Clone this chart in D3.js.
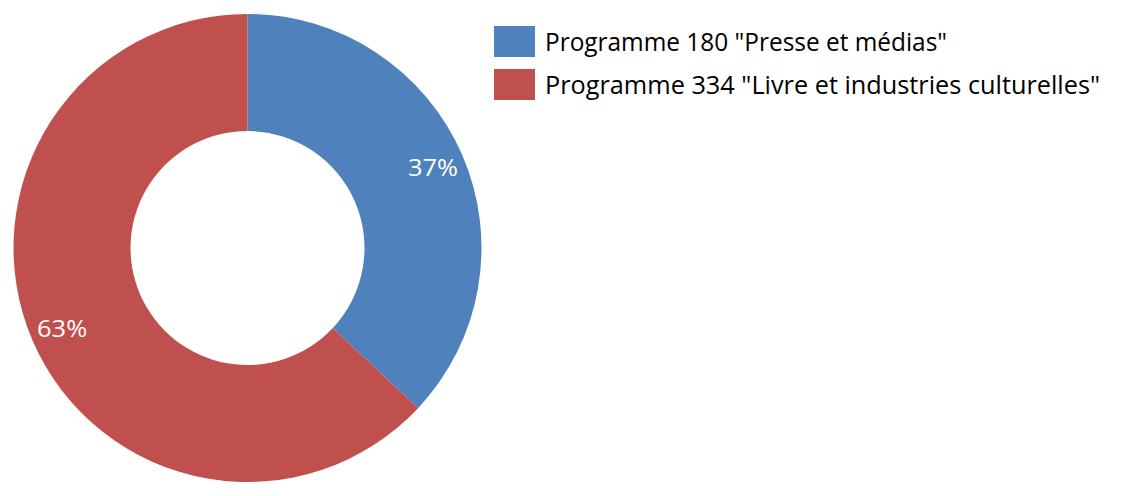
<!DOCTYPE html>
<html>
<head>
<meta charset="utf-8">
<script src="https://cdn.jsdelivr.net/npm/d3@7"></script>
<style>
  body { margin: 0; background: #fff; }
  text { font-family: "Open Sans", "Noto Sans", sans-serif; }
</style>
</head>
<body>
<svg id="chart"></svg>
<script>
// 데이터
const categories = ['Programme 180 "Presse et médias"', 'Programme 334 "Livre et industries culturelles"'];
const values = [37, 63];
const colors = ["#4F81BD", "#C0504D"];

const W = 1121, H = 496;
const cx = 247.5, cy = 248;
const outerR = 234, innerR = 117;

const svg = d3.select("#chart").attr("width", W).attr("height", H);

const pie = d3.pie().sort(null).value(d => d);
const arcs = pie(values);

const arc = d3.arc().innerRadius(innerR).outerRadius(outerR);
const labelArc = d3.arc().innerRadius(202).outerRadius(202);

const g = svg.append("g").attr("transform", `translate(${cx},${cy})`);

g.selectAll("path")
    .data(arcs)
    .enter().append("path")
    .attr("d", arc)
    .attr("fill", (d, i) => colors[i]);

const total = d3.sum(values);
g.selectAll(".lbl")
    .data(arcs)
    .enter().append("text")
    .attr("class", "lbl")
    .attr("transform", d => `translate(${labelArc.centroid(d)})`)
    .attr("text-anchor", "middle")
    .attr("dy", "0.36em")
    .attr("fill", "#fff")
    .style("font-size", "23px")
    .attr("textLength", 50)
    .attr("lengthAdjust", "spacingAndGlyphs")
    .text(d => Math.round(d.data / total * 100) + "%");

// 범례
const legend = svg.selectAll(".legend")
    .data(categories)
    .enter().append("g")
    .attr("class", "legend")
    .attr("transform", (d, i) => `translate(494,${26 + i * 43})`);

legend.append("rect")
    .attr("width", 41)
    .attr("height", 31)
    .attr("fill", (d, i) => colors[i]);

const legendWidths = [402, 555];
legend.append("text")
    .attr("x", 51)
    .attr("y", 25)
    .attr("fill", "#000")
    .style("font-size", "25px")
    .attr("textLength", (d, i) => legendWidths[i])
    .attr("lengthAdjust", "spacingAndGlyphs")
    .text(d => d);
</script>
</body>
</html>
